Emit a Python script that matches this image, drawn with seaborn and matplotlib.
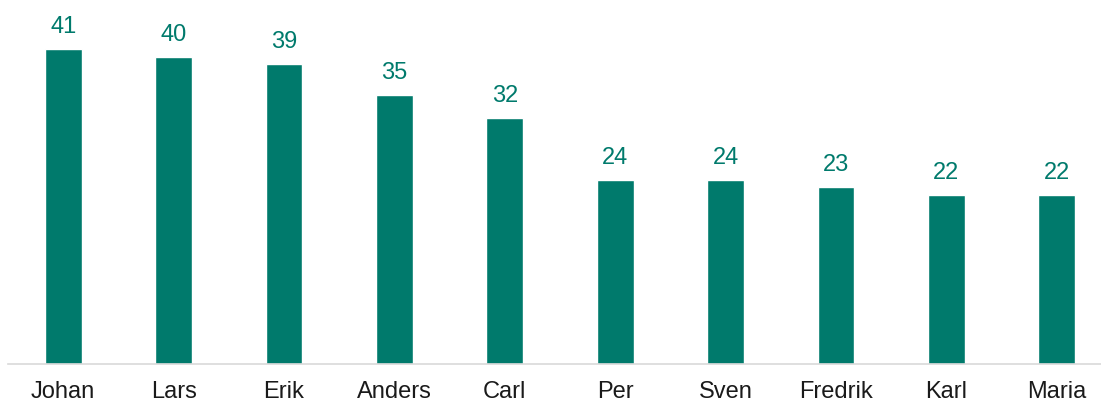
import pandas as pd
import matplotlib.pyplot as plt
import seaborn as sns

sns.set_theme(style="white")
plt.rcParams['font.family'] = ['Liberation Sans', 'DejaVu Sans']

# data
names = ['Johan', 'Lars', 'Erik', 'Anders', 'Carl', 'Per', 'Sven', 'Fredrik', 'Karl', 'Maria']
counts = [41, 40, 39, 35, 32, 24, 24, 23, 22, 22]
df = pd.DataFrame({'name': names, 'count': counts})

teal = '#007A6C'

fig = plt.figure(figsize=(11.01, 4.03), dpi=100)
ax = fig.add_axes([8 / 1101, 39 / 403, 1093 / 1101, 364 / 403])

sns.barplot(data=df, x='name', y='count', color=teal, saturation=1, width=0.335, ax=ax)
ax.bar_label(ax.containers[0], padding=8, fontsize=17, color=teal)

ax.set_xlim(-0.5, 1093 / 110.4 - 0.5)
ax.set_ylim(0, 364 / 7.68)
ax.set_xlabel('')
ax.set_ylabel('')
ax.set_yticks([])
ax.tick_params(axis='x', length=0, pad=12, labelsize=17, labelcolor='#1a1a1a')
for s in ['top', 'right', 'left']:
    ax.spines[s].set_visible(False)
ax.spines['bottom'].set_color('#D9D9D9')
ax.spines['bottom'].set_linewidth(1.2)

fig.savefig('out.png', dpi=100)
